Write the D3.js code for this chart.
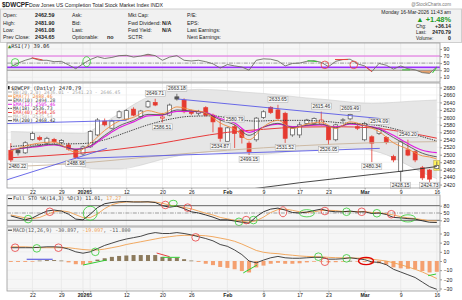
<!DOCTYPE html>
<html>
<head>
<meta charset="utf-8">
<script src="https://cdn.jsdelivr.net/npm/d3@7"></script>
<style>
body { margin: 0; background: #fff; }
svg text { font-family: "Liberation Sans", Arial, sans-serif; fill: #222; }
svg text.mono { font-family: "DejaVu Sans Mono", monospace; }
</style>
</head>
<body>
<div id="chart"></div>
<script>
// trading days shown
var days = ["2025-12-17","2025-12-18","2025-12-19","2025-12-22","2025-12-23","2025-12-24","2025-12-26","2025-12-29","2025-12-30","2025-12-31",
  "2026-01-02","2026-01-05","2026-01-06","2026-01-07","2026-01-08","2026-01-09","2026-01-12","2026-01-13","2026-01-14","2026-01-15",
  "2026-01-16","2026-01-20","2026-01-21","2026-01-22","2026-01-23","2026-01-26","2026-01-27","2026-01-28","2026-01-29","2026-01-30",
  "2026-02-02","2026-02-03","2026-02-04","2026-02-05","2026-02-06","2026-02-09","2026-02-10","2026-02-11","2026-02-12","2026-02-13",
  "2026-02-17","2026-02-18","2026-02-19","2026-02-20","2026-02-23","2026-02-24","2026-02-25","2026-02-26","2026-02-27","2026-03-02",
  "2026-03-03","2026-03-04","2026-03-05","2026-03-06","2026-03-09","2026-03-10","2026-03-11","2026-03-12","2026-03-13","2026-03-16"];

var opens  = [2512,2512,2505,2541,2546,2531,2541,2533,2526,2512, 2502,2521,2553,2590,2571,2600,2595,2622,2602,2628,
              2640,2598,2606,2655,2646,2617,2611,2626,2606,2572, 2536,2575,2566,2531,2540,2600,2627,2620,2611,2553,
              2553,2584,2584,2582,2575,2540,2593,2596,2575,2540, 2548,2557,2546,2495,2455,2513,2508,2465,2459,2462.59];
var highs  = [2531,2516,2536,2562,2551,2548,2545,2542,2532,2516, 2525,2566,2598,2597,2594,2619,2622,2627,2620,2646,
              2649.71,2612,2637,2663.18,2651,2621,2620,2630,2610,2598, 2575,2580.79,2570,2536,2601,2619,2630,2633.65,2615,2575,
              2588,2596,2600,2615.46,2580,2583,2598,2609.49,2580,2588, 2552,2574.09,2550,2500,2538,2540.20,2512,2470,2462,2481.90];
var lows   = [2480.22,2498,2502,2538,2537,2527,2530,2529,2511,2488.98, 2497,2518,2550,2576,2568,2597,2592,2603,2598,2625,
              2630,2586.51,2603,2645,2611,2606,2605,2602,2560,2534.87, 2536,2518,2530,2499.15,2535,2596,2609,2594,2531.52,2548,
              2545,2580,2581,2578,2526.05,2536,2588,2592,2566,2536, 2480.34,2553,2528,2480,2428.15,2496,2480,2432,2424.73,2461.08];
var closes = [2486,2505,2532,2557,2541,2544,2535,2538,2515,2493, 2521,2562,2593,2580,2590,2615,2618,2606,2617,2642,
              2633,2601,2633,2649,2615,2611,2616,2606,2588,2544, 2572,2557,2546,2508,2598,2615,2613,2597,2544,2571,
              2580,2593,2597,2593,2540,2580,2593.5,2608,2571,2584, 2531,2571,2533,2486,2535,2499,2486,2438,2434.65,2470.79];
var closeBefore = 2510;

// swing labels: [day index, "h" or "l"]
var priceLabels = [[0,"l"],[9,"l"],[20,"h"],[23,"h"],[21,"l"],[29,"l"],[31,"h"],[33,"l"],[37,"h"],[38,"l"],
                   [43,"h"],[44,"l"],[47,"h"],[50,"l"],[51,"h"],[55,"h"],[54,"l"],[58,"l"]];

// overlays read at selected days: [day index, value]
var bbUpper = [[0,2562],[4,2560],[8,2558],[10,2557],[12,2574],[14,2598],[16,2622],[18,2645],[20,2662],[23,2671],[26,2675],[29,2673],
               [32,2668],[35,2664],[38,2658],[41,2652],[44,2647],[47,2641],[50,2637],[53,2640],[56,2644],[59,2646.45]];
var bbLower = [[0,2482],[3,2480],[6,2478],[9,2470],[12,2462],[15,2462],[18,2472],[21,2488],[25,2503],[28,2508],[31,2505],
               [34,2500],[37,2505],[40,2511],[43,2515],[46,2518],[49,2515],[52,2500],[55,2472],[57,2452],[59,2436.01]];
var ema7  = [[0,2510],[3,2528],[6,2534],[9,2507],[11,2530],[13,2565],[15,2590],[17,2600],[19,2618],[21,2610],[23,2628],[25,2620],
             [27,2612],[29,2585],[31,2568],[33,2540],[35,2575],[37,2592],[39,2570],[41,2582],[43,2587],[45,2570],[47,2588],[49,2578],
             [51,2562],[53,2532],[55,2515],[57,2497],[58,2494],[59,2488.46]];
var ema10 = [[0,2512],[3,2522],[6,2528],[9,2514],[11,2524],[13,2552],[15,2577],[17,2592],[19,2608],[21,2607],[23,2620],[25,2617],
             [27,2612],[29,2593],[31,2580],[33,2552],[35,2574],[37,2584],[39,2573],[41,2579],[43,2582],[45,2572],[47,2584],[49,2578],
             [51,2568],[53,2546],[55,2524],[57,2504],[59,2494.28]];
var ema12 = [[0,2514],[3,2520],[6,2526],[9,2515],[11,2522],[13,2548],[15,2572],[17,2588],[19,2604],[21,2606],[23,2616],[25,2616],
             [27,2613],[29,2597],[31,2585],[33,2560],[35,2574],[37,2582],[39,2575],[41,2578],[43,2580],[45,2574],[47,2582],[49,2578],
             [51,2570],[53,2552],[55,2530],[57,2512],[59,2505.46]];
var ma18  = [[0,2522],[5,2528],[10,2530],[13,2540],[16,2560],[19,2580],[22,2595],[25,2603],[28,2604],[31,2595],[34,2590],[37,2592],
             [40,2592],[43,2590],[46,2585],[49,2582],[51,2578],[54,2565],[57,2548],[59,2536.73]];
var ema40 = [[0,2492],[10,2505],[20,2528],[25,2545],[30,2560],[35,2568],[40,2574],[45,2575],[50,2572],[54,2562],[57,2552],[59,2544.26]];
var ma50  = [[0,2468],[10,2478],[20,2496],[30,2512],[40,2524],[50,2532],[59,2535]];
var ma200 = [[25,2392],[30,2402],[34,2410],[40,2425],[45,2436],[50,2447],[55,2458],[59,2468.42]];

var legendNames = ["BB(20,2.0) 2436.01 - 2541.23 - 2646.45","EMA(7) 2488.46","EMA(10) 2494.28","EMA(12) 2505.46",
                   "MA(18) 2536.73","EMA(40) 2544.26","MA(50) 2535.54","MA(200) 2468.42"];

// hand drawn trend lines on the price panel: [[day, price],[day, price]]
var trendLines = [[[-1.5,2583],[16,2592]], [[-1.5,2427],[13.3,2517]], [[9.2,2490],[51.1,2517]], [[23.2,2649],[51.1,2597]]];

// indicators, one value per day
var rsi7 = [40,50,58,64,58,58,54,55,45,34, 48,60,68,63,66,71,72,67,70,75, 71,58,67,71,58,56,58,54,48,36,
            46,42,39,30,58,62,61,56,42,49, 50,55,57,52,40,55,60,61,48,42, 26,49,44,33,42,34,31,23,21,39.06];
var stoK = [38,30,22,30,45,58,62,58,45,25, 22,45,72,88,93,96,97,95,95,96, 93,80,74,78,68,55,50,42,33,22,
            22,17,12,8,35,55,66,70,62,52, 50,54,60,66,58,55,55,58,54,55, 48,50,44,32,30,27,25,18,12,11.01];
var stoD = [42,36,30,27,32,44,55,59,55,43, 31,31,46,68,84,92,95,96,96,95, 95,90,82,77,73,67,58,49,42,32,
            26,20,17,12,18,33,52,64,66,61, 55,52,55,60,61,60,56,56,56,56, 52,51,47,42,35,30,27,23,18,17.27];
var macdLine = [14.5,14.5,14.5,14.5,15,15.5,15.5,15,13,10, 8.5,10,13.5,17,19.5,22,24,25.5,27,29.5,
                31,30,30,31,30,28.5,26.5,24.5,22,18, 16,12,7,0,-2,1,3.5,5,3.5,3,
                3,3.5,4,4,2,2,2.5,3.5,2.5,1.5, -1,-1.5,-4,-9,-12,-15,-18,-23,-28,-30.897];
var signalLine = [15.5,15.5,15.5,15,14.5,14.5,14.5,14.5,14.5,13.5, 12.5,12,12,13,14.5,16,18,19.5,21,22.5,
                  24,25.5,26.5,27.5,28,28,28,27.5,26.5,25, 23.5,21.5,18.5,15,11.5,9.5,8.5,8,7,6.3,
                  5.5,5,4.7,4.5,4,3.6,3.4,3.4,3.2,3, 2,1,0,-2,-4,-6.5,-9,-12,-15.5,-19.097];
var histBars = [-1,-1,-1,-0.5,0.5,1,1,0.5,-1.5,-3.5, -4,-2,1.5,3,4.5,5.5,6,6.5,6.5,6.5,
                6.5,4.5,3.5,3.5,2,0.5,-1,-3,-4.5,-6.5, -7.5,-9,-11,-12.5,-7,-5,-3,-2,-3,-3,
                -2.5,-1.5,-0.8,-0.5,-1.5,-1.3,-0.8,0.2,-0.5,-1, -3,-2.5,-4,-7,-8,-8.5,-9,-11,-12.5,-11.8];

// hand drawn rings: [day, value, colour, shape]
var rsiRings = [[0.6,52,"g","s"],[10.5,54,"g","t"],[43.5,45,"r","s"],[47.5,45,"r","s"]];
var stoRings = [[2.4,25,"g","s"],[5.4,55,"r","s"],[11,49,"g","b"],[21.4,83,"r","s"],[22.5,90,"g","f"],[24.5,72,"r","s"],
                [31.6,14,"g","s"],[32.6,21,"r","s"],[33.6,21,"g","s"],[37.7,55,"r","t"],[41,49,"g","w"],[43.5,58,"r","s"],
                [46.5,55,"g","s"],[48.6,55,"r","s"],[50.7,49,"g","s"],[52.7,45,"r","s"],[55,28,"g","w"]];
var macdRings = [[0.6,14.5,"r","s"],[3.6,13.8,"g","s"],[6.6,14.5,"r","s"],[11.7,10,"g","s"],[25.6,25.8,"r","s"],
                 [42.6,4.7,"g","s"],[43.5,-0.8,"r","s"],[46.5,2.9,"g","s"],[49.2,0,"R","w"]];
// hand drawn strokes: [day0, value0, day1, value1, colour]
var rsiStrokes = [[2.9,65,4.4,59,"r"],[41.1,57,42.4,54,"g"],[44.9,60,46.7,60,"r"],[49.1,40,50,26,"r"],[54.2,31,55.3,31,"g"],[58.4,22,59,38,"g"]];
var macdStrokes = [[2.2,1.9,5.8,1.9,"b"],[10,-4.4,13.3,1.1,"g"],[20.2,8.7,22,4.7,"r"],[21,4,23.4,4,"g"],[32.2,-13,34.1,-4.4,"g"],[57.8,-16,58.9,-14.2,"g"]];

var tickDays = ["2025-12-22","2025-12-29","2026-01-02","2026-01-05","2026-01-12","2026-01-20","2026-01-26","2026-02-02",
                "2026-02-09","2026-02-17","2026-02-23","2026-03-02","2026-03-09","2026-03-16"];
var tickText = ["22","29","2026","5","12","20","26","Feb","9","17","23","Mar","9","16"];
var priceTicks = [2680,2660,2640,2620,2600,2580,2560,2540,2520,2500,2480,2460,2440,2420];
var rsiTicks = [90,70,50,30,10];
var stoTicks = [80,50,20];
var macdTicks = [30,20,10,0,-10,-20,-30];

var W = 462, H = 300;
var plotL = 7, plotR = 440;
var ringColor = {g: "#33cc33", r: "#e84040", R: "#e00000"};
var strokeColor = {g: "#33cc33", r: "#e84040", b: "#4444dd"};
var ringSize = {s: [3.8, 3.8], t: [3.8, 5], b: [7, 7], f: [4, 3], w: [7.5, 3.6]};

var svg = d3.select("#chart").append("svg").attr("width", W).attr("height", H);

var x = d3.scaleLinear().domain([0, days.length - 1]).range([10.8, 436.8]);
var tickIdx = tickDays.map(function(d) { return days.indexOf(d); });

var yRsi = d3.scaleLinear().domain([0, 100]).range([80.8, 45.4]);
var yPrice = d3.scaleLinear().domain([2420, 2680]).range([184.6, 87.5]);
var ySto = d3.scaleLinear().domain([0, 100]).range([225.2, 200.8]);
var yMacd = d3.scaleLinear().domain([-30, 30]).range([288.5, 233.5]);

// ---------- header ----------
svg.append("text").attr("x", 2).attr("y", 6.5).attr("font-size", "6.4px").attr("font-weight", "bold").text("$DWCPF");
svg.append("text").attr("x", 29).attr("y", 6.5).attr("font-size", "5.2px").attr("fill", "#333")
  .text("Dow Jones US Completion Total Stock Market Index  INDX");
svg.append("text").attr("x", 451).attr("y", 5.5).attr("font-size", "4.6px").attr("text-anchor", "end")
  .style("fill", "#777").text("@StockCharts.com");

svg.append("rect").attr("x", 0.5).attr("y", 9).attr("width", 461).attr("height", 33.5)
  .attr("fill", "#f1f1f1").attr("stroke", "#cfcfcf");

var infoRows = [15.6, 22.8, 30, 37.2];
var infoCols = [
  {x: 3, vx: 35, items: [["Open:", "2462.59"], ["High:", "2481.90"], ["Low:", "2461.08"], ["Prev Close:", "2434.65"]]},
  {x: 72, vx: 107, items: [["Ask:", ""], ["Bid:", ""], ["Last:", ""], ["Optionable:", "no"]]},
  {x: 128, vx: 162, items: [["Mkt Cap:", ""], ["Fwd Dividend:", "N/A"], ["Fwd Yield:", "N/A"], ["SCTR:", ""]]},
  {x: 187, vx: 230, items: [["P/E:", ""], ["EPS:", ""], ["Last Earnings:", ""], ["Next Earnings:", ""]]}
];
infoCols.forEach(function(col) {
  col.items.forEach(function(it, i) {
    svg.append("text").attr("x", col.x).attr("y", infoRows[i] + 1.8).attr("font-size", "5.2px").text(it[0]);
    if (it[1]) svg.append("text").attr("x", col.vx).attr("y", infoRows[i] + 1.8).attr("font-size", "5.4px")
      .attr("font-weight", "bold").text(it[1]);
  });
});
svg.append("text").attr("x", 451).attr("y", 14).attr("font-size", "5px").attr("text-anchor", "end")
  .text("Monday  16-Mar-2026  11:43 am");
svg.append("text").attr("x", 451).attr("y", 21.5).attr("font-size", "7.4px").attr("text-anchor", "end")
  .attr("font-weight", "bold").style("fill", "#1e9a1e").text("▲ +1.48%");
[["Chg:", "+36.14", 28], ["Last:", "2470.79", 34.2], ["Volume:", "0", 40.4]].forEach(function(r) {
  svg.append("text").attr("x", 416).attr("y", r[2]).attr("font-size", "4.8px").text(r[0]);
  svg.append("text").attr("x", 451).attr("y", r[2]).attr("font-size", "5.2px").attr("font-weight", "bold")
    .attr("text-anchor", "end").text(r[1]);
});

// ---------- panels ----------
function panel(top, bottom, bg, id) {
  svg.append("clipPath").attr("id", id).append("rect")
    .attr("x", plotL).attr("y", top).attr("width", plotR - plotL).attr("height", bottom - top);
  svg.append("rect").attr("x", plotL).attr("y", top).attr("width", plotR - plotL).attr("height", bottom - top)
    .attr("fill", bg);
  var g = svg.append("g").attr("clip-path", "url(#" + id + ")");
  g.selectAll(".vg").data(tickIdx).enter().append("line")
    .attr("x1", function(d) { return x(d); }).attr("x2", function(d) { return x(d); })
    .attr("y1", top).attr("y2", bottom).attr("stroke", "#e3e3e3").attr("stroke-width", 0.6);
  return g;
}
function frame(top, bottom) {
  svg.append("rect").attr("x", plotL).attr("y", top).attr("width", plotR - plotL).attr("height", bottom - top)
    .attr("fill", "none").attr("stroke", "#9a9a9a").attr("stroke-width", 0.8);
}
function rightAxis(scale, ticks) {
  var ax = svg.append("g").attr("transform", "translate(" + plotR + ",0)")
    .call(d3.axisRight(scale).tickValues(ticks).tickSize(2).tickPadding(1.5).tickFormat(d3.format("d")));
  ax.select(".domain").remove();
  ax.selectAll("line").attr("stroke", "#999");
  ax.selectAll("text").attr("font-size", "5.2px").attr("font-family", "Liberation Sans, Arial, sans-serif").attr("fill", "#333");
}
function hGrid(g, scale, ticks) {
  g.selectAll(null).data(ticks).enter().append("line")
    .attr("x1", plotL).attr("x2", plotR)
    .attr("y1", function(d) { return scale(d); }).attr("y2", function(d) { return scale(d); })
    .attr("stroke", "#ebebeb").attr("stroke-width", 0.6);
}
function level(g, scale, v, color, width, dash) {
  g.append("line").attr("x1", plotL).attr("x2", plotR).attr("y1", scale(v)).attr("y2", scale(v))
    .attr("stroke", color).attr("stroke-width", width).attr("stroke-dasharray", dash || null);
}
function dailyLine(scale) {
  return d3.line().x(function(d, i) { return x(i); }).y(function(d) { return scale(d); });
}
function pointLine(scale) {
  return d3.line().x(function(d) { return x(d[0]); }).y(function(d) { return scale(d[1]); }).curve(d3.curveMonotoneX);
}
function rings(g, data, scale) {
  g.selectAll(null).data(data).enter().append("ellipse")
    .attr("cx", function(d) { return x(d[0]); }).attr("cy", function(d) { return scale(d[1]); })
    .attr("rx", function(d) { return ringSize[d[3]][0]; }).attr("ry", function(d) { return ringSize[d[3]][1]; })
    .attr("fill", "none").attr("stroke", function(d) { return ringColor[d[2]]; })
    .attr("stroke-width", function(d) { return d[2] === "R" ? 1.4 : 0.8; });
}
function strokes(g, data, scale) {
  g.selectAll(null).data(data).enter().append("line")
    .attr("x1", function(d) { return x(d[0]); }).attr("y1", function(d) { return scale(d[1]); })
    .attr("x2", function(d) { return x(d[2]); }).attr("y2", function(d) { return scale(d[3]); })
    .attr("stroke", function(d) { return strokeColor[d[4]]; }).attr("stroke-width", 1);
}

// ---------- RSI ----------
var gr = panel(43, 82, "#f6f6f6", "clipRsi");
hGrid(gr, yRsi, rsiTicks);
svg.append("clipPath").attr("id", "rsiHigh").append("rect").attr("x", plotL).attr("y", 43)
  .attr("width", plotR - plotL).attr("height", yRsi(70) - 43);
svg.append("clipPath").attr("id", "rsiLow").append("rect").attr("x", plotL).attr("y", yRsi(30))
  .attr("width", plotR - plotL).attr("height", 82 - yRsi(30));
var rsiArea70 = d3.area().x(function(d, i) { return x(i); }).y0(yRsi(70)).y1(function(d) { return yRsi(d); });
var rsiArea30 = d3.area().x(function(d, i) { return x(i); }).y0(yRsi(30)).y1(function(d) { return yRsi(d); });
gr.append("path").datum(rsi7).attr("d", rsiArea70).attr("fill", "#c98a76").attr("clip-path", "url(#rsiHigh)");
gr.append("path").datum(rsi7).attr("d", rsiArea30).attr("fill", "#e8a26c").attr("clip-path", "url(#rsiLow)");
level(gr, yRsi, 70, "#e066e0", 1);
level(gr, yRsi, 50, "#777", 0.7, "4,1.2,1,1.2");
level(gr, yRsi, 30, "#666", 0.7);
level(gr, yRsi, 38, "#9b30ff", 1.6);
gr.append("path").datum(rsi7).attr("d", dailyLine(yRsi)).attr("fill", "none").attr("stroke", "#6e6e66").attr("stroke-width", 0.9);
strokes(gr, rsiStrokes, yRsi);
rings(gr, rsiRings, yRsi);
frame(43, 82);
rightAxis(yRsi, rsiTicks);
var rl = svg.append("text").attr("class", "mono").attr("x", 8).attr("y", 47.6).attr("font-size", "5.3px");
rl.append("tspan").style("fill", "#2a8a2a").text("▲");
rl.append("tspan").text("RSI(7) 39.06");

// ---------- price ----------
var gp = panel(83, 188, "#ffffff", "clipPrice");
hGrid(gp, yPrice, priceTicks);
var bbArea = d3.area().x(function(d) { return x(d[0]); })
  .y0(function(d) { return yPrice(d[1]); }).y1(function(d) { return yPrice(d[2]); }).curve(d3.curveMonotoneX);
// pair the read upper and lower band points on a shared set of days
var bbDays = d3.merge([bbUpper.map(function(d) { return d[0]; }), bbLower.map(function(d) { return d[0]; })]);
bbDays = Array.from(new Set(bbDays)).sort(d3.ascending);
function readAt(pts, day) {
  for (var k = 0; k < pts.length - 1; k++) {
    if (day >= pts[k][0] && day <= pts[k + 1][0]) {
      var t = (day - pts[k][0]) / (pts[k + 1][0] - pts[k][0]);
      return pts[k][1] + t * (pts[k + 1][1] - pts[k][1]);
    }
  }
  return pts[pts.length - 1][1];
}
var bbBand = bbDays.map(function(dd) { return [dd, readAt(bbLower, dd), readAt(bbUpper, dd)]; });
gp.append("path").datum(bbBand).attr("d", bbArea).attr("fill", "#e6e6e6");
gp.append("path").datum(bbUpper).attr("d", pointLine(yPrice)).attr("fill", "none").attr("stroke", "#cdcdcd").attr("stroke-width", 0.6);
gp.append("path").datum(bbLower).attr("d", pointLine(yPrice)).attr("fill", "none").attr("stroke", "#cdcdcd").attr("stroke-width", 0.6);

// candles
var candles = days.map(function(d, i) {
  return {i: i, o: opens[i], h: highs[i], l: lows[i], c: closes[i], pc: i ? closes[i - 1] : closeBefore};
});
var last = candles[candles.length - 1];
gp.append("rect").attr("x", x(last.i) - 3).attr("y", yPrice(last.h) - 1).attr("width", 6)
  .attr("height", yPrice(last.l) - yPrice(last.h) + 2).attr("fill", "#fff25a").attr("stroke", "#b0a040").attr("stroke-width", 0.5);
var cg = gp.selectAll(".candle").data(candles).enter().append("g");
function cColor(d) { return d.c >= d.pc ? "#555" : "#e53a30"; }
cg.append("line").attr("x1", function(d) { return x(d.i); }).attr("x2", function(d) { return x(d.i); })
  .attr("y1", function(d) { return yPrice(d.h); }).attr("y2", function(d) { return yPrice(d.l); })
  .attr("stroke", cColor).attr("stroke-width", 0.8);
cg.append("rect").attr("x", function(d) { return x(d.i) - 2; }).attr("width", 4)
  .attr("y", function(d) { return yPrice(Math.max(d.o, d.c)); })
  .attr("height", function(d) { return Math.max(0.8, yPrice(Math.min(d.o, d.c)) - yPrice(Math.max(d.o, d.c))); })
  .attr("fill", function(d) { return d.c < d.o ? cColor(d) : "#fff"; })
  .attr("stroke", cColor).attr("stroke-width", 0.7);

// moving averages
var overlays = [
  {pts: ma200, color: "#333", w: 0.9},
  {pts: ma50, color: "#c9b49c", w: 0.9},
  {pts: ema40, color: "#e83a3a", w: 1},
  {pts: ma18, color: "#333", w: 0.9, dash: "1.4,1"},
  {pts: ema12, color: "#e020e0", w: 1.2},
  {pts: ema10, color: "#555", w: 0.9},
  {pts: ema7, color: "#f08a3c", w: 0.9}
];
overlays.forEach(function(o) {
  gp.append("path").datum(o.pts).attr("d", pointLine(yPrice)).attr("fill", "none")
    .attr("stroke", o.color).attr("stroke-width", o.w).attr("stroke-dasharray", o.dash || null);
});
trendLines.forEach(function(t) {
  gp.append("line").attr("x1", x(t[0][0])).attr("y1", yPrice(t[0][1])).attr("x2", x(t[1][0])).attr("y2", yPrice(t[1][1]))
    .attr("stroke", "#5a5ae6").attr("stroke-width", 0.9);
});

// swing value tags
priceLabels.forEach(function(p) {
  var d = candles[p[0]];
  var v = p[1] === "h" ? d.h : d.l;
  var cy = p[1] === "h" ? yPrice(v) - 5.5 : Math.min(yPrice(v) + 4.5, 185.2);
  var cx = Math.max(x(d.i), plotL + 10.5);
  var g = svg.append("g");
  g.append("rect").attr("x", cx - 10).attr("y", cy - 3).attr("width", 20).attr("height", 6)
    .attr("fill", "#f7f7f7").attr("stroke", "#aaa").attr("stroke-width", 0.5);
  g.append("text").attr("x", cx).attr("y", cy + 1.8).attr("text-anchor", "middle")
    .attr("font-size", "4.9px").style("fill", "#333").text(d3.format(".2f")(v));
});

frame(83, 188);
rightAxis(yPrice, priceTicks);

svg.append("rect").attr("x", 8).attr("y", 86).attr("width", 1.6).attr("height", 3.4).attr("fill", "#222");
svg.append("text").attr("class", "mono").attr("x", 11).attr("y", 89.6).attr("font-size", "5.3px").text("$DWCPF (Daily) 2470.79");
var legendColors = ["#aaa", "#f08a3c", "#555", "#e020e0", "#333", "#e83a3a", "#c0b6ac", "#333"];
var legendDash = [null, null, null, null, "1.4,1", null, null, null];
legendNames.forEach(function(n, i) {
  var ly = 92 + i * 4.1;
  svg.append("line").attr("x1", 8).attr("x2", 12).attr("y1", ly).attr("y2", ly)
    .attr("stroke", legendColors[i]).attr("stroke-width", 1).attr("stroke-dasharray", legendDash[i]);
  svg.append("text").attr("class", "mono").attr("x", 13).attr("y", ly + 1.6).attr("font-size", "4.7px")
    .style("fill", legendColors[i]).text(n);
});

// ---------- date axes ----------
function dateAxis(yPos) {
  var ax = svg.append("g").attr("transform", "translate(0," + yPos + ")")
    .call(d3.axisBottom(x).tickValues(tickIdx).tickSize(1.5).tickPadding(0.8)
      .tickFormat(function(d, i) { return tickText[i]; }));
  ax.select(".domain").remove();
  ax.selectAll("line").attr("stroke", "#999");
  ax.selectAll("text").attr("font-size", "5.2px").attr("font-family", "Liberation Sans, Arial, sans-serif").attr("fill", "#333")
    .attr("font-weight", function(d, i) { return /[A-Za-z]|2026/.test(tickText[i]) ? "bold" : null; });
}
dateAxis(188);

// ---------- Full STO ----------
var gs = panel(195, 226, "#f6f6f6", "clipSto");
level(gs, ySto, 80, "#555", 0.9);
level(gs, ySto, 50, "#777", 0.7, "4,1.2,1,1.2");
level(gs, ySto, 20, "#555", 0.9);
gs.append("path").datum(stoD).attr("d", dailyLine(ySto)).attr("fill", "none").attr("stroke", "#f0a050").attr("stroke-width", 0.9);
gs.append("path").datum(stoK).attr("d", dailyLine(ySto)).attr("fill", "none").attr("stroke", "#222").attr("stroke-width", 0.9);
rings(gs, stoRings, ySto);
frame(195, 226);
rightAxis(ySto, stoTicks);
svg.append("line").attr("x1", 8).attr("x2", 12).attr("y1", 198.6).attr("y2", 198.6).attr("stroke", "#222");
var sl = svg.append("text").attr("class", "mono").attr("x", 13).attr("y", 200.3).attr("font-size", "5px");
sl.append("tspan").style("fill", "#333").text("Full STO %K(14,3) %D(3) 11.01, ");
sl.append("tspan").style("fill", "#f0a050").text("17.27");

// ---------- MACD ----------
var gm = panel(227, 291, "#f6f6f6", "clipMacd");
hGrid(gm, yMacd, macdTicks);
gm.selectAll(".bar").data(histBars).enter().append("rect")
  .attr("x", function(d, i) { return x(i) - 2; }).attr("width", 4)
  .attr("y", function(d) { return yMacd(Math.max(0, d)); })
  .attr("height", function(d) { return Math.max(0.7, Math.abs(yMacd(d) - yMacd(0))); })
  .attr("fill", function(d) { return d >= 0 ? "#8c7a5c" : "#f4a070"; });
gm.append("path").datum(signalLine).attr("d", dailyLine(yMacd)).attr("fill", "none").attr("stroke", "#f0a050").attr("stroke-width", 0.9);
gm.append("path").datum(macdLine).attr("d", dailyLine(yMacd)).attr("fill", "none").attr("stroke", "#333").attr("stroke-width", 0.9);
strokes(gm, macdStrokes, yMacd);
rings(gm, macdRings, yMacd);
frame(227, 291);
rightAxis(yMacd, macdTicks);
svg.append("line").attr("x1", 8).attr("x2", 12).attr("y1", 230.2).attr("y2", 230.2).attr("stroke", "#333");
var ml = svg.append("text").attr("class", "mono").attr("x", 13).attr("y", 231.9).attr("font-size", "5px");
ml.append("tspan").style("fill", "#555").text("MACD(12,26,9) -30.897, ");
ml.append("tspan").style("fill", "#f0a050").text("-19.097");
ml.append("tspan").style("fill", "#555").text(", -11.800");

dateAxis(291);
</script>
</body>
</html>
